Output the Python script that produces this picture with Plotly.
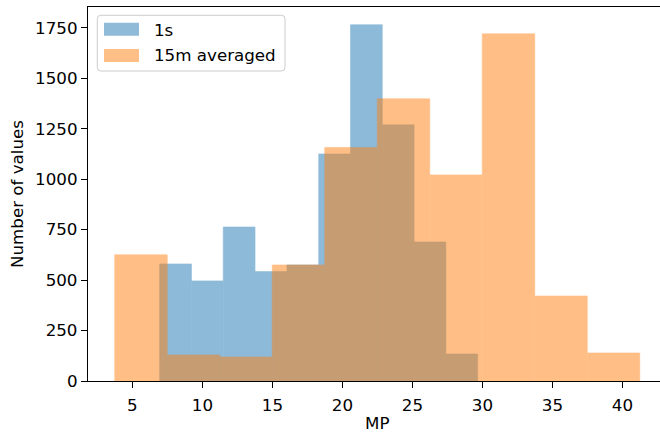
import plotly.graph_objects as go

# ---- data ----
series_names = ["1s", "15m averaged"]

edges_1s = [6.95, 9.22, 11.49, 13.76, 16.04, 18.31, 20.58, 22.85, 25.12, 27.39, 29.66]
counts_1s = [580, 496, 763, 542, 575, 1125, 1765, 1269, 689, 134]

edges_15m = [3.74, 7.49, 11.24, 14.99, 18.74, 22.49, 26.24, 29.99, 33.74, 37.49, 41.24]
counts_15m = [625, 129, 119, 575, 1157, 1398, 1021, 1720, 421, 139]

x_ticks = [5, 10, 15, 20, 25, 30, 35, 40]
y_ticks = [0, 250, 500, 750, 1000, 1250, 1500, 1750]
x_title = "MP"
y_title = "Number of values"

# ---- layout geometry ----
W, H = 660, 435
L, R, T, B = 88, 0, 7, 54
PW, PH = W - L - R, H - T - B
FONT = "DejaVu Sans"
FS = 16.7
colors = ["#1f77b4", "#ff7f0e"]


def px(xp):
    return (xp - L) / PW


def py(yp):
    return (H - B - yp) / PH


fig = go.Figure()
for name, edges, counts, col in [
    (series_names[0], edges_1s, counts_1s, colors[0]),
    (series_names[1], edges_15m, counts_15m, colors[1]),
]:
    widths = [edges[i + 1] - edges[i] for i in range(len(counts))]
    fig.add_trace(go.Bar(
        x=edges[:-1], y=counts, width=widths, offset=0,
        name=name, marker=dict(color=col, line=dict(width=0.6, color=col)),
        opacity=0.5, showlegend=False, hoverinfo="skip",
    ))

# custom matplotlib-like legend
x0, x1, y0, y1 = 97.3, 285, 15.3, 71
r = 3.5
rx, ry = r / PW, r / PH
X0, X1, Y0, Y1 = px(x0), px(x1), py(y1), py(y0)
path = (f"M {X0+rx},{Y0} L {X1-rx},{Y0} Q {X1},{Y0} {X1},{Y0+ry} "
        f"L {X1},{Y1-ry} Q {X1},{Y1} {X1-rx},{Y1} L {X0+rx},{Y1} "
        f"Q {X0},{Y1} {X0},{Y1-ry} L {X0},{Y0+ry} Q {X0},{Y0} {X0+rx},{Y0} Z")
shapes = [dict(type="path", xref="paper", yref="paper", path=path,
               fillcolor="rgba(255,255,255,0.8)", line=dict(color="#cccccc", width=1), layer="above")]
annotations = []
rows = [(22.7, 35.7, 30.0), (49.0, 62.0, 55.5)]
for i, (ya, yb, yc) in enumerate(rows):
    shapes.append(dict(type="rect", xref="paper", yref="paper",
                       x0=px(104), x1=px(139), y0=py(yb), y1=py(ya),
                       fillcolor=colors[i], opacity=0.5, line=dict(width=0), layer="above"))
    annotations.append(dict(xref="paper", yref="paper", x=px(152), y=py(yc),
                            xanchor="left", yanchor="middle", showarrow=False,
                            text=series_names[i], font=dict(family=FONT, size=FS, color="black")))

# axis titles
annotations.append(dict(xref="paper", yref="paper", x=px(377), y=py(423),
                        xanchor="center", yanchor="middle", showarrow=False,
                        text=x_title, font=dict(family=FONT, size=FS, color="black")))
annotations.append(dict(xref="paper", yref="paper", x=px(17), y=py(194),
                        xanchor="center", yanchor="middle", showarrow=False, textangle=-90,
                        text=y_title, font=dict(family=FONT, size=FS, color="black")))

fig.update_layout(
    width=W, height=H, barmode="overlay",
    margin=dict(l=L, r=R, t=T, b=B, pad=0, autoexpand=False),
    plot_bgcolor="white", paper_bgcolor="white",
    font=dict(family=FONT, size=FS, color="black"),
    shapes=shapes, annotations=annotations,
    xaxis=dict(range=[1.83, 1.83 + PW / 14.0], tickvals=x_ticks, ticks="outside", ticklen=6,
               tickwidth=1.3, tickcolor="black", showline=True, linecolor="black", linewidth=1.3,
               mirror=True, showgrid=False, zeroline=False, automargin=False,
               ticklabelstandoff=3),
    yaxis=dict(range=[0, 1853], tickvals=y_ticks, ticks="outside", ticklen=6,
               tickwidth=1.3, tickcolor="black", showline=True, linecolor="black", linewidth=1.3,
               showgrid=False, zeroline=False, automargin=False),
)

fig.write_html("out.html", config={"displayModeBar": False},
               post_script="document.body.style.margin='0';document.body.style.overflow='hidden';")
